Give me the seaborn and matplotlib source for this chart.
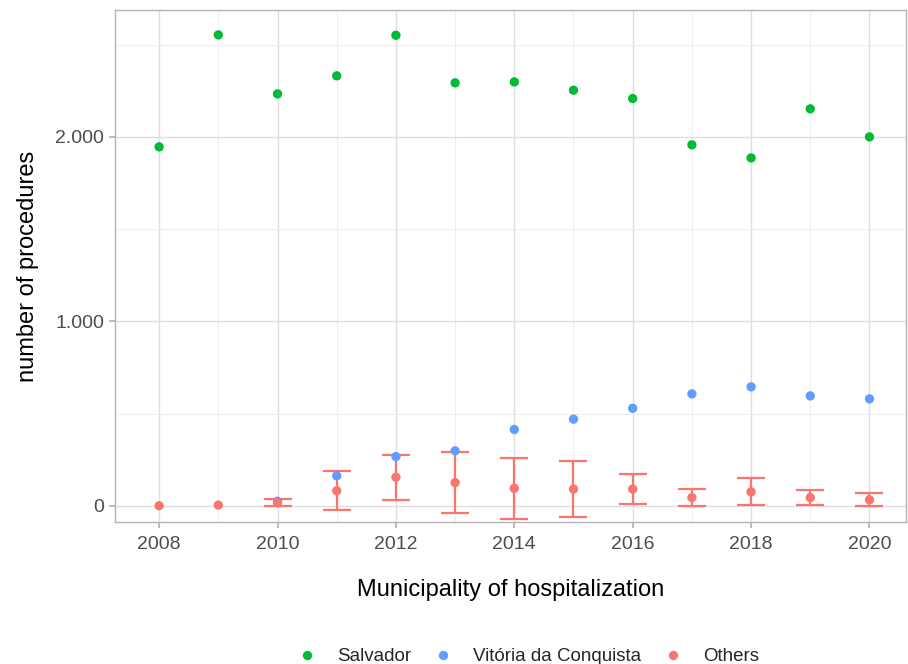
import numpy as np
import pandas as pd
import seaborn as sns
import matplotlib.pyplot as plt
from matplotlib.ticker import FixedLocator, FuncFormatter

sns.set_theme(style="whitegrid")
plt.rcParams['font.family'] = ['Liberation Sans', 'DejaVu Sans']

years = list(range(2008, 2021))
salvador = [1946, 2553, 2233, 2331, 2551, 2293, 2298, 2253, 2208, 1957, 1886, 2152, 2000]
conquista = [np.nan, np.nan, 25, 163, 267, 298, 414, 470, 529, 607, 645, 596, 580]
others = [1, 4, 17, 82, 155, 126, 95, 91, 91, 45, 76, 45, 33]
others_sd = [0, 0, 20, 107, 123, 167, 165, 151, 82, 45, 74, 42, 34]

groups = ["Salvador", "Vitória da Conquista", "Others"]
palette = {"Salvador": "#00BA38", "Vitória da Conquista": "#619CFF", "Others": "#F8766D"}

df = pd.DataFrame({
    "year": years * 3,
    "value": salvador + conquista + others,
    "group": [g for g in groups for _ in years],
})

fig = plt.figure(figsize=(9.08, 6.64), dpi=100)
ax = fig.add_axes([0.127, 0.214, 0.871, 0.771])

# error bars for "Others" (skip the first two years, no spread)
yrs = np.array(years)[2:]
ax.errorbar(yrs, np.array(others)[2:], yerr=np.array(others_sd)[2:], fmt="none",
            ecolor=palette["Others"], elinewidth=1.6, capsize=10, capthick=1.6, zorder=2)

sns.scatterplot(data=df, x="year", y="value", hue="group", hue_order=groups,
                palette=palette, s=45, edgecolor="none", ax=ax, zorder=3)

ax.set_xlim(2007.26, 2020.62)
ax.set_ylim(-87, 2688)
ax.xaxis.set_major_locator(FixedLocator(range(2008, 2021, 2)))
ax.xaxis.set_minor_locator(FixedLocator(range(2009, 2021, 2)))
ax.yaxis.set_major_locator(FixedLocator([0, 1000, 2000]))
ax.yaxis.set_minor_locator(FixedLocator([500, 1500, 2500]))
ax.yaxis.set_major_formatter(FuncFormatter(lambda v, p: f"{int(v):,}".replace(",", ".")))

ax.grid(which="major", color="#DEDEDE", linewidth=1.0)
ax.grid(which="minor", color="#EEEEEE", linewidth=0.8)
for s in ax.spines.values():
    s.set_color("#B3B3B3")
    s.set_linewidth(1.0)
ax.tick_params(which="major", length=4, color="#B3B3B3", labelsize=14,
               labelcolor="#4D4D4D", bottom=True, left=True, pad=4)
ax.tick_params(axis="x", which="major", pad=6)
ax.tick_params(which="minor", length=0)

ax.set_xlabel("Municipality of hospitalization", fontsize=17, labelpad=19, color="black")
ax.set_ylabel("number of procedures", fontsize=17, labelpad=12, color="black")

handles, labels = ax.get_legend_handles_labels()
ax.get_legend().remove()
fig.legend(handles, labels, loc="center", bbox_to_anchor=(0.582, 0.011), ncol=3,
           frameon=False, fontsize=13.5, handlelength=1.0, handletextpad=1.1,
           columnspacing=1.2, markerscale=1.0)

fig.savefig("out.png", dpi=100)
